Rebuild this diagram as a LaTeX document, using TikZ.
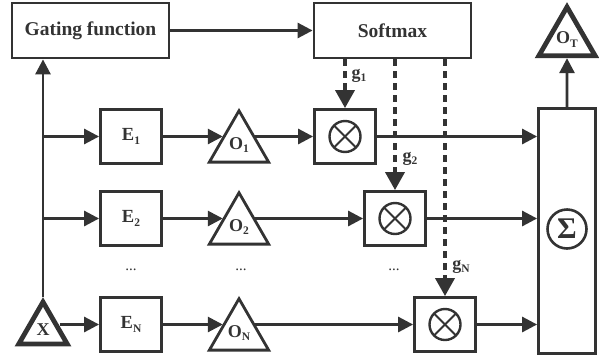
\documentclass[tikz,border=0pt]{standalone}
\usepackage{fontspec}
\setmainfont{Liberation Serif}
\usetikzlibrary{arrows.meta,shapes.geometric,calc}
\definecolor{ink}{HTML}{333333}
\newcommand{\mysub}[1]{\raisebox{-0.4ex}{\fontsize{11.5}{11.5}\selectfont\bfseries #1}}
\tikzset{
  arr/.style={-{Triangle[length=15pt,width=15pt]}},
  dasharr/.style={-{Triangle[length=18pt,width=19pt]}, line width=3.6pt, dash pattern=on 7pt off 5pt},
  bigbox/.style={draw, rectangle, minimum width=157pt, minimum height=55pt, inner sep=0pt,
    font=\fontsize{19.5}{19.5}\selectfont\bfseries},
  ebox/.style={draw, rectangle, minimum width=61pt, minimum height=54pt, inner sep=0pt,
    font=\fontsize{18.5}{18.5}\selectfont\bfseries},
  otri/.style={draw, regular polygon, regular polygon sides=3, minimum size=68.5pt, inner sep=0pt,
    font=\fontsize{18}{18}\selectfont\bfseries},
  thicktri/.style={draw, regular polygon, regular polygon sides=3, inner sep=0pt, line width=4.8pt,
    font=\fontsize{18}{18}\selectfont\bfseries},
  glabel/.style={inner sep=0pt, font=\fontsize{18}{18}\selectfont\bfseries},
  dotlabel/.style={inner sep=0pt, font=\fontsize{15}{15}\selectfont},
}
\begin{document}
\begin{tikzpicture}[x=1pt,y=-1pt,line width=2.8pt,color=ink]
\useasboundingbox (0,0) rectangle (599,362);
% top boxes
\node[bigbox] (gate) at (90.5,30.5) {Gating function};
\node[bigbox] (soft) at (392.5,30.5) {Softmax};
% output triangle
\node[thicktri, minimum size=65pt] (OT) at (567,39.5) {O\mysub{T}};
% input triangle
\node[thicktri, minimum size=56pt] (X) at (43,330) {X};
% experts
\node[ebox] (E1) at (131,136.5) {E\mysub{1}};
\node[ebox] (E2) at (131,218.5) {E\mysub{2}};
\node[ebox] (EN) at (131,324.5) {E\mysub{N}};
% expert outputs
\node[otri] (O1) at (239,145) {O\mysub{1}};
\node[otri] (O2) at (239,227) {O\mysub{2}};
\node[otri] (ON) at (239,333) {O\mysub{N}};
% multipliers
\node[ebox] (M1) at (345,136.5) {};
\node[ebox] (M2) at (395,218.5) {};
\node[ebox] (MN) at (445,324.5) {};
\foreach \m in {M1,M2,MN}{
  \draw[line width=2.4pt] (\m.center) circle[radius=15.5pt];
  \draw[line width=1.8pt] ([shift={(45:15.5pt)}]\m.center) -- ([shift={(225:15.5pt)}]\m.center);
  \draw[line width=1.8pt] ([shift={(135:15.5pt)}]\m.center) -- ([shift={(315:15.5pt)}]\m.center);
}
% sum box
\node[draw, rectangle, minimum width=57pt, minimum height=245pt, inner sep=0pt] (sum) at (567,231) {};
\node[draw, circle, minimum size=39pt, inner sep=0pt, line width=2.6pt,
  font=\fontsize{30}{30}\selectfont\bfseries] (sig) at (567,229) {\raisebox{-0.1ex}{Σ}};
% dots
\node[dotlabel] (d1) at (131,270) {...};
\node[dotlabel] (d2) at (241,270) {...};
\node[dotlabel] (d3) at (394,270) {...};
% connectors
\draw[arr] (gate.east) -- (soft.west);
\draw[arr] (X.north) -- (X.north |- gate.south);
\draw[arr] (X.north |- E1.west) -- (E1.west);
\draw[arr] (X.north |- E2.west) -- (E2.west);
\draw[arr] (EN.west -| X.12) -- (EN.west);
\draw[arr] (E1.east) -- (E1.east -| O1.151);
\draw[arr] (E2.east) -- (E2.east -| O2.151);
\draw[arr] (EN.east) -- (EN.east -| ON.151);
\draw[arr] (E1.east -| O1.29) -- (M1.west);
\draw[arr] (E2.east -| O2.29) -- (M2.west);
\draw[arr] (EN.east -| ON.29) -- (MN.west);
\draw[arr] (M1.east) -- (M1.east -| sum.west);
\draw[arr] (M2.east) -- (M2.east -| sum.west);
\draw[arr] (MN.east) -- (MN.east -| sum.west);
\draw[arr] (sum.north) -- (OT.south);
\draw[dasharr] (soft.south -| M1.north) -- (M1.north);
\draw[dasharr] (soft.south -| M2.north) -- (M2.north);
\draw[dasharr] (soft.south -| MN.north) -- (MN.north);
% gate labels
\node[glabel] (g1) at (359,76) {g\mysub{1}};
\node[glabel] (g2) at (410,159) {g\mysub{2}};
\node[glabel] (gN) at (461,267) {g\mysub{N}};
\end{tikzpicture}
\end{document}
